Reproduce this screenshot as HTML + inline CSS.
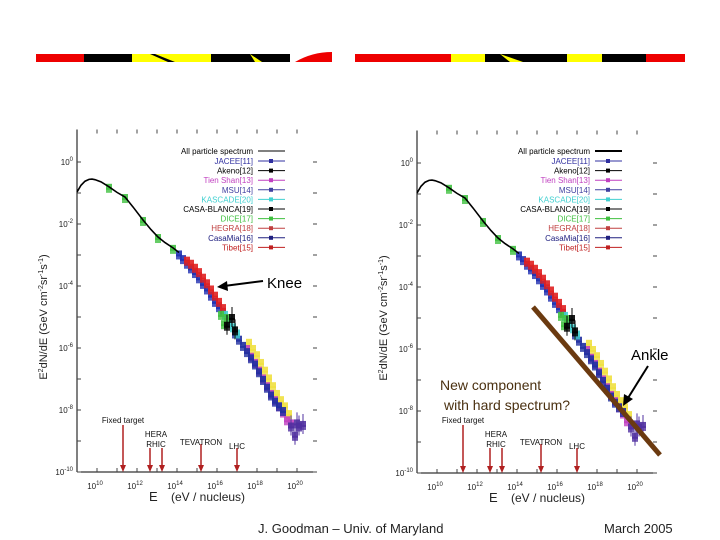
<!DOCTYPE html>
<html><head><meta charset="utf-8"><style>
body{margin:0;background:#fff;}
svg{display:block;font-family:"Liberation Sans",sans-serif;}
</style></head><body>
<svg id="s" width="720" height="540" viewBox="0 0 720 540">
<g id="banner"></g>
<g id="p1"></g>
<g id="p2"></g>
<text x="258" y="533" font-size="13" fill="#222">J. Goodman – Univ. of Maryland</text>
<text x="604" y="533" font-size="13" fill="#222">March 2005</text>
</svg>
<script>
const curveE=[9.0,9.2,9.4,9.6,9.75,9.9,10.2,10.6,11,11.4,11.8,12.3,12.7,13.05,13.4,13.8,14.1];
const curveF=[-0.97,-0.75,-0.62,-0.56,-0.55,-0.57,-0.64,-0.8,-0.98,-1.13,-1.45,-1.87,-2.18,-2.42,-2.6,-2.77,-2.92];
const blueE=[14.1,14.3,14.5,14.7,14.9,15.1,15.3,15.5,15.7,15.9,16.1,16.3];
const blueF=[-2.95,-3.1,-3.25,-3.4,-3.55,-3.72,-3.9,-4.08,-4.28,-4.48,-4.65,-4.8];
const redE=[14.5,14.7,14.9,15.1,15.3,15.5,15.7,15.9,16.1,16.3];
const redF=[-3.15,-3.25,-3.38,-3.52,-3.7,-3.88,-4.08,-4.28,-4.48,-4.68];
const greenE=[10.6,11.4,12.3,13.05,13.8,16.2,16.35,16.5];
const greenF=[-0.8,-1.13,-1.87,-2.42,-2.77,-4.9,-5.2,-5.0];
const cyanE=[16.4,16.6,16.8,17.0];
const cyanF=[-4.9,-5.1,-5.3,-5.5];
const blackE=[16.5,16.75,16.9];
const blackF=[-5.25,-5.0,-5.4];
const navyE=[16.9,17.1,17.3,17.5,17.7,17.9,18.1,18.3,18.5,18.7,18.9,19.1,19.3];
const navyF=[-5.5,-5.7,-5.9,-6.1,-6.3,-6.5,-6.75,-7.0,-7.25,-7.5,-7.7,-7.85,-8.0];
const magE=[17.5,17.7,17.9,18.1,18.3,18.5,18.7,18.9,19.1,19.3,19.5,19.7];
const magF=[-6.0,-6.25,-6.45,-6.7,-6.95,-7.2,-7.45,-7.65,-7.85,-8.05,-8.3,-8.4];
const yelE=[17.6,17.8,18.0,18.2,18.4,18.6,18.8,19.0,19.2,19.4,19.6];
const yelF=[-5.8,-6.0,-6.2,-6.45,-6.7,-6.95,-7.2,-7.45,-7.65,-7.85,-8.1];
const tailE=[19.7,19.9,20.0,20.1,20.3];
const tailF=[-8.5,-8.8,-8.4,-8.5,-8.45];
const legendNames=["JACEE[11]","Akeno[12]","Tien Shan[13]","MSU[14]","KASCADE[20]","CASA-BLANCA[19]","DICE[17]","HEGRA[18]","CasaMia[16]","Tibet[15]"];
const legendColors=["#3030a0","#000","#c040c0","#4040a0","#40d0d0","#000","#40c040","#c04040","#202080","#c02020"];
const accelNames=["Fixed target","HERA","RHIC","TEVATRON","LHC"];
const accelE=[11.3,12.65,13.25,15.2,17.0];
const yTicks=[0,-2,-4,-6,-8,-10];
const xTicks=[10,12,14,16,18,20];

const NS="http://www.w3.org/2000/svg";
function mk(parent,tag,attrs,text){const e=document.createElementNS(NS,tag);for(const k in attrs)e.setAttribute(k,attrs[k]);if(text!==undefined)e.textContent=text;parent.appendChild(e);return e;}

// banner
const B=document.getElementById('banner');
const segs=[[36,84,'#e00'],[84,132,'#000'],[132,211,'#ff0'],[211,290,'#000'],[355,451,'#e00'],[451,485,'#ff0'],[485,567,'#000'],[567,602,'#ff0'],[602,646,'#000'],[646,685,'#e00']];
segs.forEach(s=>{const r=mk(B,'rect',{x:s[0],y:54,width:s[1]-s[0],height:8,fill:s[2]});

});
mk(B,'path',{d:'M155 54 L175 62 L168 62 L150 54Z',fill:'#000'});
mk(B,'path',{d:'M250 54 L262 62 L255 62Z',fill:'#ff0'});
mk(B,'path',{d:'M295 62 Q312 52 332 52 L332 62Z',fill:'#e00'});
mk(B,'path',{d:'M500 54 L523 62 L510 62Z',fill:'#ff0'});

function plot(g,x0,y0,legX,right){
  const X=e=>x0+(e-9)*20, Y=f=>y0-f*31;
  const bottom=Y(-10), top=Y(1.05), rx=X(21);
  mk(g,'line',{x1:X(9),y1:top,x2:X(9),y2:bottom,stroke:'#000','stroke-width':1});
  mk(g,'line',{x1:X(9),y1:bottom,x2:rx,y2:bottom,stroke:'#000','stroke-width':1});
  for(let d=0;d>=-10;d--){mk(g,'line',{x1:X(9),y1:Y(d),x2:X(9)+4,y2:Y(d),stroke:'#444'});mk(g,'line',{x1:rx,y1:Y(d),x2:rx-4,y2:Y(d),stroke:'#444'});}
  for(let e=10;e<=20;e++){mk(g,'line',{x1:X(e),y1:bottom,x2:X(e),y2:bottom-4,stroke:'#444'});mk(g,'line',{x1:X(e),y1:top,x2:X(e),y2:top+4,stroke:'#444'});}
  yTicks.forEach(t=>{const tx=mk(g,'text',{x:X(9)-4,y:Y(t)+3,'font-size':8,'text-anchor':'end',fill:'#222'});
    
    tx.textContent='10';mk(tx,'tspan',{dy:-4,'font-size':6},String(t));});
  xTicks.forEach(t=>{const tx=mk(g,'text',{x:X(t)-2,y:bottom+17,'font-size':8,'text-anchor':'middle',fill:'#222'});
    
    tx.textContent='10';mk(tx,'tspan',{dy:-4,'font-size':6},String(t));});
  const xt=mk(g,'text',{x:X(12.6),y:bottom+29,'font-size':13,fill:'#222'},'E');
  
  mk(g,'text',{x:X(13.7),y:bottom+29,'font-size':12,fill:'#222'},'(eV / nucleus)');
  const yt=mk(g,'text',{transform:`translate(${X(9)-30},${Y(-5)}) rotate(-90)`,'font-size':11,'text-anchor':'middle',fill:'#222'});
  
  yt.innerHTML='E<tspan dy="-4" font-size="7">2</tspan><tspan dy="4">dN/dE   (GeV cm</tspan><tspan dy="-4" font-size="7">-2</tspan><tspan dy="4">sr</tspan><tspan dy="-4" font-size="7">-1</tspan><tspan dy="4">s</tspan><tspan dy="-4" font-size="7">-1</tspan><tspan dy="4">)</tspan>';
  // series
  const ser=[[yelE,yelF,'#f0e040'],[magE,magF,'#c040c0'],[navyE,navyF,'#2030a0'],[blueE,blueF,'#2030b0'],[redE,redF,'#e02020'],[cyanE,cyanF,'#40d0d0'],[greenE,greenF,'#40c040'],[blackE,blackF,'#000'],[tailE,tailF,'#5030a0']];
  ser.forEach(s=>{s[0].forEach((e,i)=>{
    const r=mk(g,'rect',{x:X(e)-3,y:Y(s[1][i])-3,width:6,height:6,fill:s[2],opacity:0.9});
    
    if(s===ser[8]||(s[0]===blackE)) mk(g,'line',{x1:X(e),y1:Y(s[1][i])-10,x2:X(e),y2:Y(s[1][i])+10,stroke:s[2]});
    // band thickening
    mk(g,'rect',{x:X(e)-3,y:Y(s[1][i])+1,width:6,height:5,fill:s[2],opacity:0.8});
  });});
  const pts=curveE.map((e,i)=>X(e)+','+Y(curveF[i])).join(' ');
  const pl=mk(g,'polyline',{points:pts,fill:'none',stroke:'#000','stroke-width':1.6});
  
  // legend
  const lt=mk(g,'text',{x:legX,y:154,'font-size':8,'text-anchor':'end',fill:'#000'},'All particle spectrum');
  
  mk(g,'line',{x1:legX+5,y1:151,x2:legX+32,y2:151,stroke:'#000','stroke-width':right?2:1});
  legendNames.forEach((n,i)=>{const y=161+i*9.6;
    const t=mk(g,'text',{x:legX,y:y+3,'font-size':8,'text-anchor':'end',fill:legendColors[i]},n);
    
    mk(g,'line',{x1:legX+5,y1:y,x2:legX+32,y2:y,stroke:legendColors[i]});
    mk(g,'rect',{x:legX+16,y:y-2,width:4,height:4,fill:legendColors[i]});});
  // accelerators
  const ly=[420,434,444,442,446];
  accelE.forEach((e,i)=>{
    const a=mk(g,'line',{x1:X(e),y1:i==0?425:(i==3?444:448),x2:X(e),y2:bottom-6,stroke:'#b02020','stroke-width':1.5});
    
    mk(g,'path',{d:`M${X(e)-3} ${bottom-7} L${X(e)+3} ${bottom-7} L${X(e)} ${bottom}Z`,fill:'#b02020'});
    const lx=i==1||i==2?X(12.95):X(e);
    const t=mk(g,'text',{x:lx,y:ly[i]+3,'font-size':8,'text-anchor':'middle',fill:'#111'},accelNames[i]);
    
  });
  return {X,Y};
}
const g1=document.getElementById('p1'),g2=document.getElementById('p2');
plot(g1,77,162,253,false);
const a2=plot(g2,417,163,590,true);
// knee annotation
mk(g1,'line',{x1:263,y1:281,x2:224,y2:286,stroke:'#000','stroke-width':2});
mk(g1,'path',{d:'M217 287 L227 281 L228 291Z',fill:'#000'});
const kn=mk(g1,'text',{x:267,y:288,'font-size':15,fill:'#000'},'Knee');

// right annotations
const hl=mk(g2,'line',{x1:533,y1:307,x2:660,y2:455,stroke:'#6b3a10','stroke-width':5});

const an=mk(g2,'text',{x:631,y:360,'font-size':15,fill:'#000'},'Ankle');

mk(g2,'line',{x1:648,y1:366,x2:628,y2:398,stroke:'#000','stroke-width':2});
mk(g2,'path',{d:'M623 406 L624 394 L633 399Z',fill:'#000'});
const nc=mk(g2,'text',{x:440,y:390,'font-size':14,fill:'#4a3010'},'New component');

mk(g2,'text',{x:444,y:410,'font-size':14,fill:'#4a3010'},'with hard spectrum?');
</script>
</body></html>
